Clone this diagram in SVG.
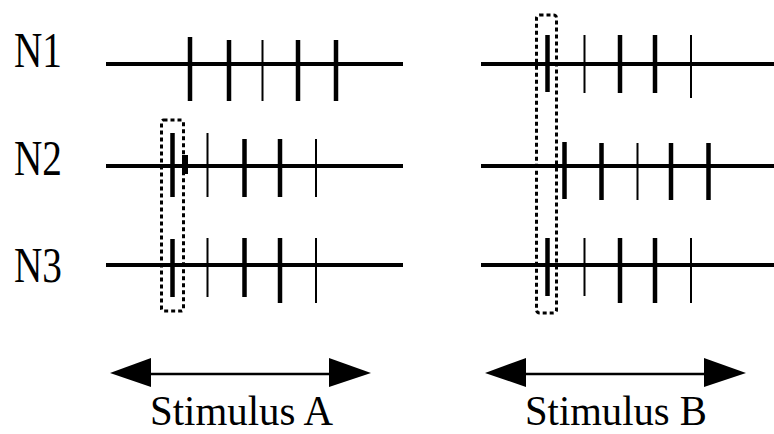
<svg xmlns="http://www.w3.org/2000/svg" width="774" height="434" viewBox="0 0 774 434">
<style>
.lbl{font-family:"Liberation Serif","Times New Roman",serif;font-size:50px;fill:#000}
.stim{font-family:"Liberation Serif","Times New Roman",serif;font-size:42px;fill:#000}
.base{stroke:#000;stroke-width:4;fill:none}
.tk{stroke:#000;stroke-width:4.5}
.tn{stroke:#000;stroke-width:2}
.box{fill:none;stroke:#000;stroke-width:3;stroke-dasharray:4 3}
.arr{stroke:#000;stroke-width:2.5}
</style>
<rect width="774" height="434" fill="#fff"/>
<g id="label-N1"><text class="lbl" x="14" y="66.5" textLength="48" lengthAdjust="spacingAndGlyphs">N1</text></g>
<g id="label-N2"><text class="lbl" x="14" y="175" textLength="48" lengthAdjust="spacingAndGlyphs">N2</text></g>
<g id="label-N3"><text class="lbl" x="14" y="281.5" textLength="48" lengthAdjust="spacingAndGlyphs">N3</text></g>

<g id="trainA-N1">
<line class="base" x1="106" y1="64" x2="403" y2="64"/>
<line class="tk" x1="190" y1="37" x2="190" y2="101"/>
<line class="tk" x1="229" y1="40" x2="229" y2="101"/>
<line class="tn" x1="262.5" y1="40" x2="262.5" y2="101"/>
<line class="tk" x1="298" y1="40" x2="298" y2="101"/>
<line class="tk" x1="336" y1="40" x2="336" y2="101"/>
</g>
<g id="trainA-N2">
<line class="base" x1="106" y1="166" x2="403" y2="166"/>
<line class="tk" x1="172.5" y1="133" x2="172.5" y2="197"/>
<rect x="182" y="155" width="6" height="19" fill="#000"/>
<line class="tn" x1="207.5" y1="133" x2="207.5" y2="197"/>
<line class="tk" x1="244.5" y1="139" x2="244.5" y2="197"/>
<line class="tk" x1="280" y1="139" x2="280" y2="197"/>
<line class="tn" x1="316" y1="139" x2="316" y2="197"/>
</g>
<g id="trainA-N3">
<line class="base" x1="106" y1="265" x2="403" y2="265"/>
<line class="tk" x1="172.5" y1="239" x2="172.5" y2="297"/>
<line class="tn" x1="207.5" y1="238" x2="207.5" y2="297"/>
<line class="tk" x1="244.5" y1="238" x2="244.5" y2="297"/>
<line class="tk" x1="280" y1="238" x2="280" y2="303"/>
<line class="tn" x1="316" y1="238" x2="316" y2="303"/>
</g>
<g id="boxA"><rect class="box" x="161.5" y="120" width="22" height="191" rx="2"/></g>

<g id="trainB-N1">
<line class="base" x1="481" y1="64" x2="774" y2="64"/>
<line class="tk" x1="547.5" y1="35" x2="547.5" y2="92"/>
<line class="tn" x1="584.5" y1="35" x2="584.5" y2="93"/>
<line class="tk" x1="620" y1="35" x2="620" y2="93"/>
<line class="tk" x1="655" y1="35" x2="655" y2="93"/>
<line class="tn" x1="691" y1="35" x2="691" y2="98"/>
</g>
<g id="trainB-N2">
<line class="base" x1="481" y1="166" x2="774" y2="166"/>
<line class="tk" x1="564.5" y1="142" x2="564.5" y2="199"/>
<line class="tk" x1="601.5" y1="143" x2="601.5" y2="200"/>
<line class="tn" x1="637.5" y1="143" x2="637.5" y2="200"/>
<line class="tk" x1="671" y1="143" x2="671" y2="200"/>
<line class="tk" x1="708.5" y1="143" x2="708.5" y2="200"/>
</g>
<g id="trainB-N3">
<line class="base" x1="481" y1="265" x2="774" y2="265"/>
<line class="tk" x1="547.5" y1="238" x2="547.5" y2="296"/>
<line class="tn" x1="584.5" y1="238" x2="584.5" y2="296"/>
<line class="tk" x1="620" y1="238" x2="620" y2="303"/>
<line class="tk" x1="655" y1="238" x2="655" y2="303"/>
<line class="tn" x1="691" y1="238" x2="691" y2="303"/>
</g>
<g id="boxB"><rect class="box" x="536.5" y="15" width="20" height="298" rx="3"/></g>

<g id="connectors">
<line class="arr" x1="148" y1="374" x2="331" y2="374"/>
<polygon points="110,373 151,358 151,387"/>
<polygon points="371,373 329,358 329,387"/>
<line class="arr" x1="523" y1="374" x2="706" y2="374"/>
<polygon points="485,373 526,358 526,387"/>
<polygon points="746,373 704,358 704,387"/>
</g>
<g id="label-stimA"><text class="stim" x="150" y="424.5" textLength="183" lengthAdjust="spacingAndGlyphs">Stimulus A</text></g>
<g id="label-stimB"><text class="stim" x="525" y="424.5" textLength="182" lengthAdjust="spacingAndGlyphs">Stimulus B</text></g>
</svg>
